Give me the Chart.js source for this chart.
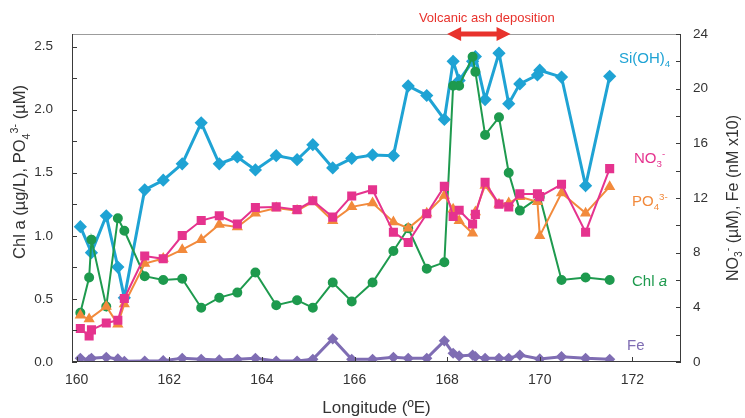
<!DOCTYPE html>
<html>
<head>
<meta charset="utf-8">
<script src="https://cdn.jsdelivr.net/npm/chart.js@4.4.1/dist/chart.umd.min.js"></script>
<style>
  html, body { margin: 0; padding: 0; background: #ffffff; }
  #wrap { width: 745px; height: 418px; }
</style>
</head>
<body>
<div id="wrap"><canvas id="c" width="745" height="418"></canvas></div>
<script>
// Station longitudes (°E) along the transect
const longitude = [160.08, 160.27, 160.32, 160.64, 160.89, 161.03, 161.47, 161.87, 162.28, 162.69,
                   163.08, 163.47, 163.86, 164.31, 164.76, 165.10, 165.53, 165.94, 166.39, 166.84,
                   167.16, 167.56, 167.94, 168.13, 168.26, 168.55, 168.61, 168.82, 169.12, 169.33,
                   169.57, 169.95, 170.00, 170.47, 170.99, 171.51];

// Silicate (µM) – right axis
const siOH4 = [9.9, null, 8.0, 10.7, 6.95, 4.7, 12.6, 13.3, 14.5, 17.5,
               14.5, 15.0, 14.05, 15.1, 14.8, 15.9, 14.2, 14.9, 15.15, 15.1,
               20.2, 19.5, 17.75, 22.0, 20.6, 22.0, 22.35, 19.2, 22.6, 18.9,
               20.35, 21.0, 21.35, 20.85, 12.9, 20.9];

// Nitrate (µM) – right axis
const no3 = [2.45, 1.9, 2.35, 2.85, 3.05, 4.65, 7.75, 7.55, 9.25, 10.35,
             10.7, 10.1, 11.3, 11.35, 11.15, 11.8, 10.6, 12.15, 12.6, 9.5,
             8.75, 10.85, 12.85, 10.65, 11.1, 10.1, 10.8, 13.15, 11.55, 11.35,
             12.3, 12.3, 12.1, 13.0, 9.5, 14.15];

// Phosphate (µM) – left axis
const po4 = [0.37, 0.34, null, 0.44, 0.30, 0.46, 0.78, 0.82, 0.89, 0.97,
             1.09, 1.07, 1.18, 1.22, 1.20, 1.27, 1.12, 1.23, 1.26, 1.11,
             1.06, 1.18, 1.32, 1.21, 1.12, 1.02, 1.19, 1.40, 1.25, 1.26,
             1.31, 1.27, 1.00, 1.34, 1.18, 1.39];

// Chlorophyll a (µg/L) – left axis
const chlA = [0.39, 0.67, 0.97, 0.44, 1.14, 1.04, 0.68, 0.65, 0.66, 0.43,
              0.51, 0.55, 0.71, 0.45, 0.49, 0.43, 0.63, 0.48, 0.63, 0.88,
              1.06, 0.74, 0.79, 2.19, 2.19, 2.42, 2.30, 1.80, 1.94, 1.50,
              1.20, null, 1.31, 0.65, 0.67, 0.65];

// Dissolved Fe (nM x10) – right axis
const fe = [0.27, 0.15, 0.27, 0.34, 0.22, 0.05, 0.07, 0.10, 0.27, 0.20,
            0.15, 0.20, 0.27, 0.07, 0.07, 0.20, 1.70, 0.20, 0.20, 0.34,
            0.27, 0.27, 1.55, 0.64, 0.44, 0.51, 0.39, 0.27, 0.27, 0.27,
            0.51, null, 0.22, 0.39, 0.27, 0.20];

// Tick values
const lonTicks = [160, 162, 164, 166, 168, 170, 172];
const leftTicks = [0, 0.5, 1.0, 1.5, 2.0, 2.5];
const rightTicks = [0, 4, 8, 12, 16, 20, 24];
const leftMinorStep = 0.25;
const rightMinorStep = 2;

// Longitude span of the ash deposition event
const ashSpan = [168.0, 169.37];

const COLORS = {
  si: '#1fa3d4',
  no3: '#e5338e',
  po4: '#f28a3c',
  chl: '#1e9a4e',
  fe: '#7f6db3',
  ash: '#e8322c',
  text: '#333333'
};
const FONT = '"Liberation Sans", Arial, Helvetica, sans-serif';

function points(values) {
  const out = [];
  values.forEach((v, i) => { if (v !== null) out.push({ x: longitude[i], y: v }); });
  return out;
}

function segFont(s, size) {
  const sz = (s.sub || s.sup) ? size * 0.65 : size;
  return (s.it ? 'italic ' : '') + sz + 'px ' + FONT;
}
function richWidth(ctx, segs, size) {
  let w = 0;
  segs.forEach(s => { ctx.font = segFont(s, size); w += ctx.measureText(s.t).width; });
  return w;
}
function drawRich(ctx, segs, x, y, size, color) {
  ctx.fillStyle = color;
  ctx.textAlign = 'left';
  ctx.textBaseline = 'alphabetic';
  let cx = x;
  segs.forEach(s => {
    ctx.font = segFont(s, size);
    const dy = s.sub ? size * 0.28 : (s.sup ? -size * 0.42 : 0);
    ctx.fillText(s.t, cx, y + dy);
    cx += ctx.measureText(s.t).width;
  });
}

const overlay = {
  id: 'overlay',
  afterDraw(chart) {
    const { ctx, chartArea: a, scales } = chart;
    const xs = scales.x, yl = scales.yL, yr = scales.yR;
    const seg = (x1, y1, x2, y2) => { ctx.beginPath(); ctx.moveTo(x1, y1); ctx.lineTo(x2, y2); ctx.stroke(); };
    ctx.save();

    // plot frame
    ctx.lineWidth = 1;
    ctx.strokeStyle = '#9c9c9c';
    seg(a.left, a.top + 0.5, a.right, a.top + 0.5);
    ctx.strokeStyle = '#3a3a3a';
    seg(a.left + 0.5, a.top, a.left + 0.5, a.bottom);
    seg(a.right - 0.5, a.top, a.right - 0.5, a.bottom);
    seg(a.left, a.bottom - 0.5, a.right, a.bottom - 0.5);

    // inward tick marks
    for (let v = 0; v <= yl.max + 1e-9; v += leftMinorStep) {
      const p = Math.round(yl.getPixelForValue(v)) + 0.5;
      seg(a.left, p, a.left + 5, p);
    }
    for (let v = 0; v <= yr.max + 1e-9; v += rightMinorStep) {
      const p = Math.round(yr.getPixelForValue(v)) + 0.5;
      seg(a.right - 5, p, a.right, p);
    }
    lonTicks.forEach(v => {
      const p = Math.round(xs.getPixelForValue(v)) + 0.5;
      seg(p, a.bottom - 5, p, a.bottom);
    });

    // axis titles
    const leftTitle = [{ t: 'Chl a (µg/L), PO' }, { t: '4', sub: true }, { t: '3-', sup: true }, { t: ' (µM)' }];
    const rightTitle = [{ t: 'NO' }, { t: '3', sub: true }, { t: '-', sup: true }, { t: ' (µM), Fe (nM x10)' }];
    [[leftTitle, 19, 172, 16.5], [rightTitle, 732, 198, 16]].forEach(([segs, cx, cy, tSize]) => {
      const w = richWidth(ctx, segs, tSize);
      ctx.save();
      ctx.translate(cx, cy);
      ctx.rotate(-Math.PI / 2);
      drawRich(ctx, segs, -w / 2, tSize * 0.36, tSize, COLORS.text);
      ctx.restore();
    });
    const xTitle = [{ t: 'Longitude (ºE)' }];
    const xw = richWidth(ctx, xTitle, 17);
    drawRich(ctx, xTitle, (a.left + a.right) / 2 - xw / 2, 413, 17, COLORS.text);

    // series labels
    const lSize = 15;
    drawRich(ctx, [{ t: 'Si(OH)' }, { t: '4', sub: true }], 619, 63, lSize, COLORS.si);
    drawRich(ctx, [{ t: 'NO' }, { t: '3', sub: true }, { t: '-', sup: true }], 634, 163, lSize, COLORS.no3);
    drawRich(ctx, [{ t: 'PO' }, { t: '4', sub: true }, { t: '3-', sup: true }], 632, 206, lSize, COLORS.po4);
    drawRich(ctx, [{ t: 'Chl ' }, { t: 'a', it: true }], 632, 286, lSize, COLORS.chl);
    drawRich(ctx, [{ t: 'Fe' }], 627, 350, lSize, COLORS.fe);

    // ash deposition marker
    const x1 = xs.getPixelForValue(ashSpan[0]);
    const x2 = xs.getPixelForValue(ashSpan[1]);
    const ay = a.top;
    const head = 14, half = 7;
    ctx.strokeStyle = COLORS.ash;
    ctx.fillStyle = COLORS.ash;
    ctx.lineWidth = 5;
    seg(x1 + head - 1, ay, x2 - head + 1, ay);
    ctx.beginPath();
    ctx.moveTo(x1, ay); ctx.lineTo(x1 + head, ay - half); ctx.lineTo(x1 + head, ay + half); ctx.closePath(); ctx.fill();
    ctx.beginPath();
    ctx.moveTo(x2, ay); ctx.lineTo(x2 - head, ay - half); ctx.lineTo(x2 - head, ay + half); ctx.closePath(); ctx.fill();
    const label = [{ t: 'Volcanic ash deposition' }];
    const lw = richWidth(ctx, label, 13);
    drawRich(ctx, label, (x1 + x2) / 2 + 8 - lw / 2, 22, 13, COLORS.ash);

    ctx.restore();
  }
};

const tickFont = { family: FONT, size: 14 };

new Chart(document.getElementById('c').getContext('2d'), {
  type: 'line',
  data: {
    datasets: [
      { label: 'NO3', data: points(no3), yAxisID: 'yR', borderColor: COLORS.no3, backgroundColor: COLORS.no3,
        borderWidth: 2, pointStyle: 'rect', pointRadius: 5, order: 1 },
      { label: 'PO4', data: points(po4), yAxisID: 'yL', borderColor: COLORS.po4, backgroundColor: COLORS.po4,
        borderWidth: 2, pointStyle: 'triangle', pointRadius: 4.5, order: 2 },
      { label: 'Chl a', data: points(chlA), yAxisID: 'yL', borderColor: COLORS.chl, backgroundColor: COLORS.chl,
        borderWidth: 2, pointStyle: 'circle', pointRadius: 4, order: 3 },
      { label: 'Si(OH)4', data: points(siOH4), yAxisID: 'yR', borderColor: COLORS.si, backgroundColor: COLORS.si,
        borderWidth: 3, pointStyle: 'rectRot', pointRadius: 4.5, order: 4 },
      { label: 'Fe', data: points(fe), yAxisID: 'yR', borderColor: COLORS.fe, backgroundColor: COLORS.fe,
        borderWidth: 3, pointStyle: 'rectRot', pointRadius: 3.5, order: 5 }
    ]
  },
  options: {
    responsive: false,
    animation: false,
    devicePixelRatio: 1,
    layout: { padding: { top: 34, left: 0, right: 0, bottom: 0 } },
    elements: { line: { tension: 0, fill: false }, point: { borderWidth: 1 } },
    plugins: { legend: { display: false }, tooltip: { enabled: false } },
    scales: {
      x: {
        type: 'linear', min: 159.9, max: 173.05,
        afterBuildTicks: s => { s.ticks = lonTicks.map(v => ({ value: v })); },
        afterFit: s => { s.height = 56; },
        grid: { display: false, drawTicks: false },
        border: { display: false },
        ticks: { padding: 10, font: tickFont, color: COLORS.text, maxRotation: 0, callback: v => String(v) }
      },
      yL: {
        type: 'linear', position: 'left', min: 0, max: 2.6,
        afterBuildTicks: s => { s.ticks = leftTicks.map(v => ({ value: v })); },
        afterFit: s => { s.width = 72; },
        grid: { display: false, drawTicks: false },
        border: { display: false },
        ticks: { padding: 19, font: { family: FONT, size: 13.5 }, color: COLORS.text, callback: v => v.toFixed(1) }
      },
      yR: {
        type: 'linear', position: 'right', min: 0, max: 24,
        afterBuildTicks: s => { s.ticks = rightTicks.map(v => ({ value: v })); },
        afterFit: s => { s.width = 64; },
        grid: { display: false, drawTicks: false },
        border: { display: false },
        ticks: { padding: 12, font: { family: FONT, size: 13.5 }, color: COLORS.text, callback: v => String(v) }
      }
    }
  },
  plugins: [overlay]
});
</script>
</body>
</html>
